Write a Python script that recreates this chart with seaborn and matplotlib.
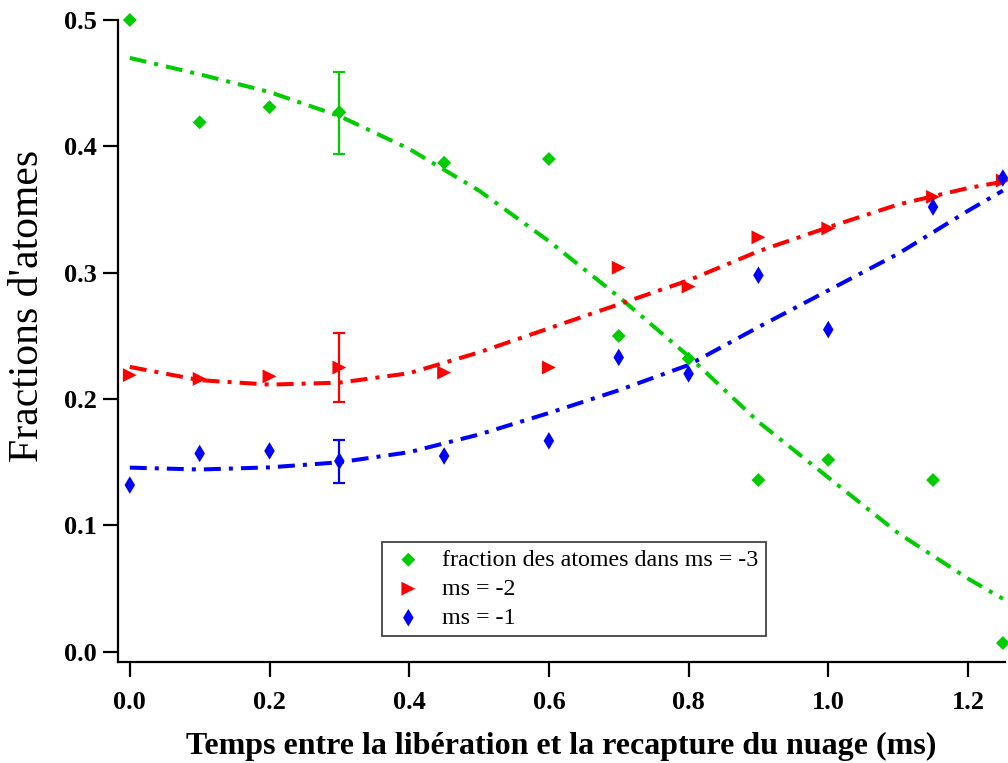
import matplotlib
matplotlib.use("Agg")
import matplotlib.pyplot as plt
import seaborn as sns
import pandas as pd

# measured points (fraction of atoms per Zeeman state)
t_ms = [0.0, 0.1, 0.2, 0.3, 0.45, 0.6, 0.7, 0.8, 0.9, 1.0, 1.15, 1.25]
frac_m3 = [0.500, 0.419, 0.431, 0.427, 0.387, 0.390, 0.250, 0.232, 0.136, 0.152, 0.136, 0.007]
frac_m2 = [0.219, 0.216, 0.218, 0.225, 0.221, 0.225, 0.304, 0.289, 0.328, 0.335, 0.360, 0.373]
frac_m1 = [0.132, 0.157, 0.159, 0.151, 0.155, 0.167, 0.233, 0.220, 0.298, 0.255, 0.352, 0.375]

# error bars only drawn on the t = 0.3 ms point
err_t = [0.3]
err_m3 = [0.4266, 0.0325]
err_m2 = [0.225, 0.0273]
err_m1 = [0.1506, 0.0172]

# fit curves
fit_t = [0.0, 0.1, 0.2, 0.3, 0.4, 0.5, 0.6, 0.7, 0.8, 0.9, 1.0, 1.1, 1.2, 1.25]
fit_m3 = [0.470, 0.457, 0.443, 0.424, 0.398, 0.365, 0.325, 0.281, 0.234, 0.182, 0.138, 0.094, 0.058, 0.042]
fit_m2 = [0.2255, 0.215, 0.2115, 0.213, 0.2205, 0.237, 0.256, 0.275, 0.294, 0.317, 0.336, 0.354, 0.367, 0.372]
fit_m1 = [0.1458, 0.1443, 0.146, 0.150, 0.158, 0.172, 0.189, 0.207, 0.227, 0.257, 0.286, 0.315, 0.349, 0.365]

labels = ["fraction des atomes dans ms = -3", "ms = -2", "ms = -1"]
colors = ["#00CC00", "#FF0000", "#0000FF"]

sns.set_style("ticks")
plt.rcParams['font.family'] = ['Liberation Serif', 'DejaVu Serif']
plt.rcParams['text.color'] = 'black'
plt.rcParams['axes.labelcolor'] = 'black'
plt.rcParams['xtick.color'] = 'black'
plt.rcParams['ytick.color'] = 'black'
plt.rcParams['axes.edgecolor'] = 'black'

fig = plt.figure(figsize=(10.08, 7.63), dpi=100)
ax = fig.add_axes([0.117, 0.1324, 0.880, 0.8414])

dash = (0, (4.2, 2.0, 1.0, 2.0))
points = pd.DataFrame({"t": t_ms, "m3": frac_m3, "m2": frac_m2, "m1": frac_m1})
fits = pd.DataFrame({"t": fit_t, "m3": fit_m3, "m2": fit_m2, "m1": fit_m1})

for col, c in zip(["m3", "m2", "m1"], colors):
    sns.lineplot(data=fits, x="t", y=col, color=c, lw=2.9, linestyle=dash,
                 dash_capstyle="butt", legend=False, ax=ax)

markers = [("D", 50), (">", 100), ("d", 80)]
for col, c, lab, (m, s) in zip(["m3", "m2", "m1"], colors, labels, markers):
    sns.scatterplot(data=points, x="t", y=col, color=c, marker=m, s=s,
                    edgecolor="none", label=lab, ax=ax, zorder=3, clip_on=False)

for (yv, e), c in zip([err_m3, err_m2, err_m1], colors):
    ax.errorbar(err_t, [yv], yerr=[e], fmt="none", ecolor=c, elinewidth=1.6,
                capsize=4.5, capthick=1.6, zorder=2)

ax.set_xlim(-0.017, 1.253)
ax.set_ylim(-0.008, 0.5)
ax.set_xticks([0.0, 0.2, 0.4, 0.6, 0.8, 1.0, 1.2])
ax.set_yticks([0.0, 0.1, 0.2, 0.3, 0.4, 0.5])
ax.set_xticklabels([f"{v:.1f}" for v in ax.get_xticks()])
ax.set_yticklabels([f"{v:.1f}" for v in ax.get_yticks()])
ax.tick_params(axis="both", direction="out", length=10.8, width=1.6,
               labelsize=19)
ax.tick_params(axis="x", pad=10)
ax.tick_params(axis="y", pad=4.5)
for lab in ax.get_xticklabels() + ax.get_yticklabels():
    lab.set_fontweight("bold")
sns.despine(ax=ax)
for sp in ["left", "bottom"]:
    ax.spines[sp].set_linewidth(1.6)

ax.set_xlabel("Temps entre la libération et la recapture du nuage (ms)",
              fontsize=23, fontweight="bold", labelpad=13)
ax.set_ylabel("Fractions d'atomes", fontsize=30, labelpad=8)
ax.yaxis.set_label_coords(-0.08, 0.555)

leg = ax.legend(loc="upper left", bbox_to_anchor=(0.2976, 0.187),
                borderaxespad=0, fontsize=17.3, frameon=True, fancybox=False,
                edgecolor="#333333", framealpha=1, handletextpad=0.62,
                labelspacing=0.3, borderpad=0.3, handlelength=1.6)
leg.get_frame().set_linewidth(1.2)

fig.savefig("out.png", dpi=100)
